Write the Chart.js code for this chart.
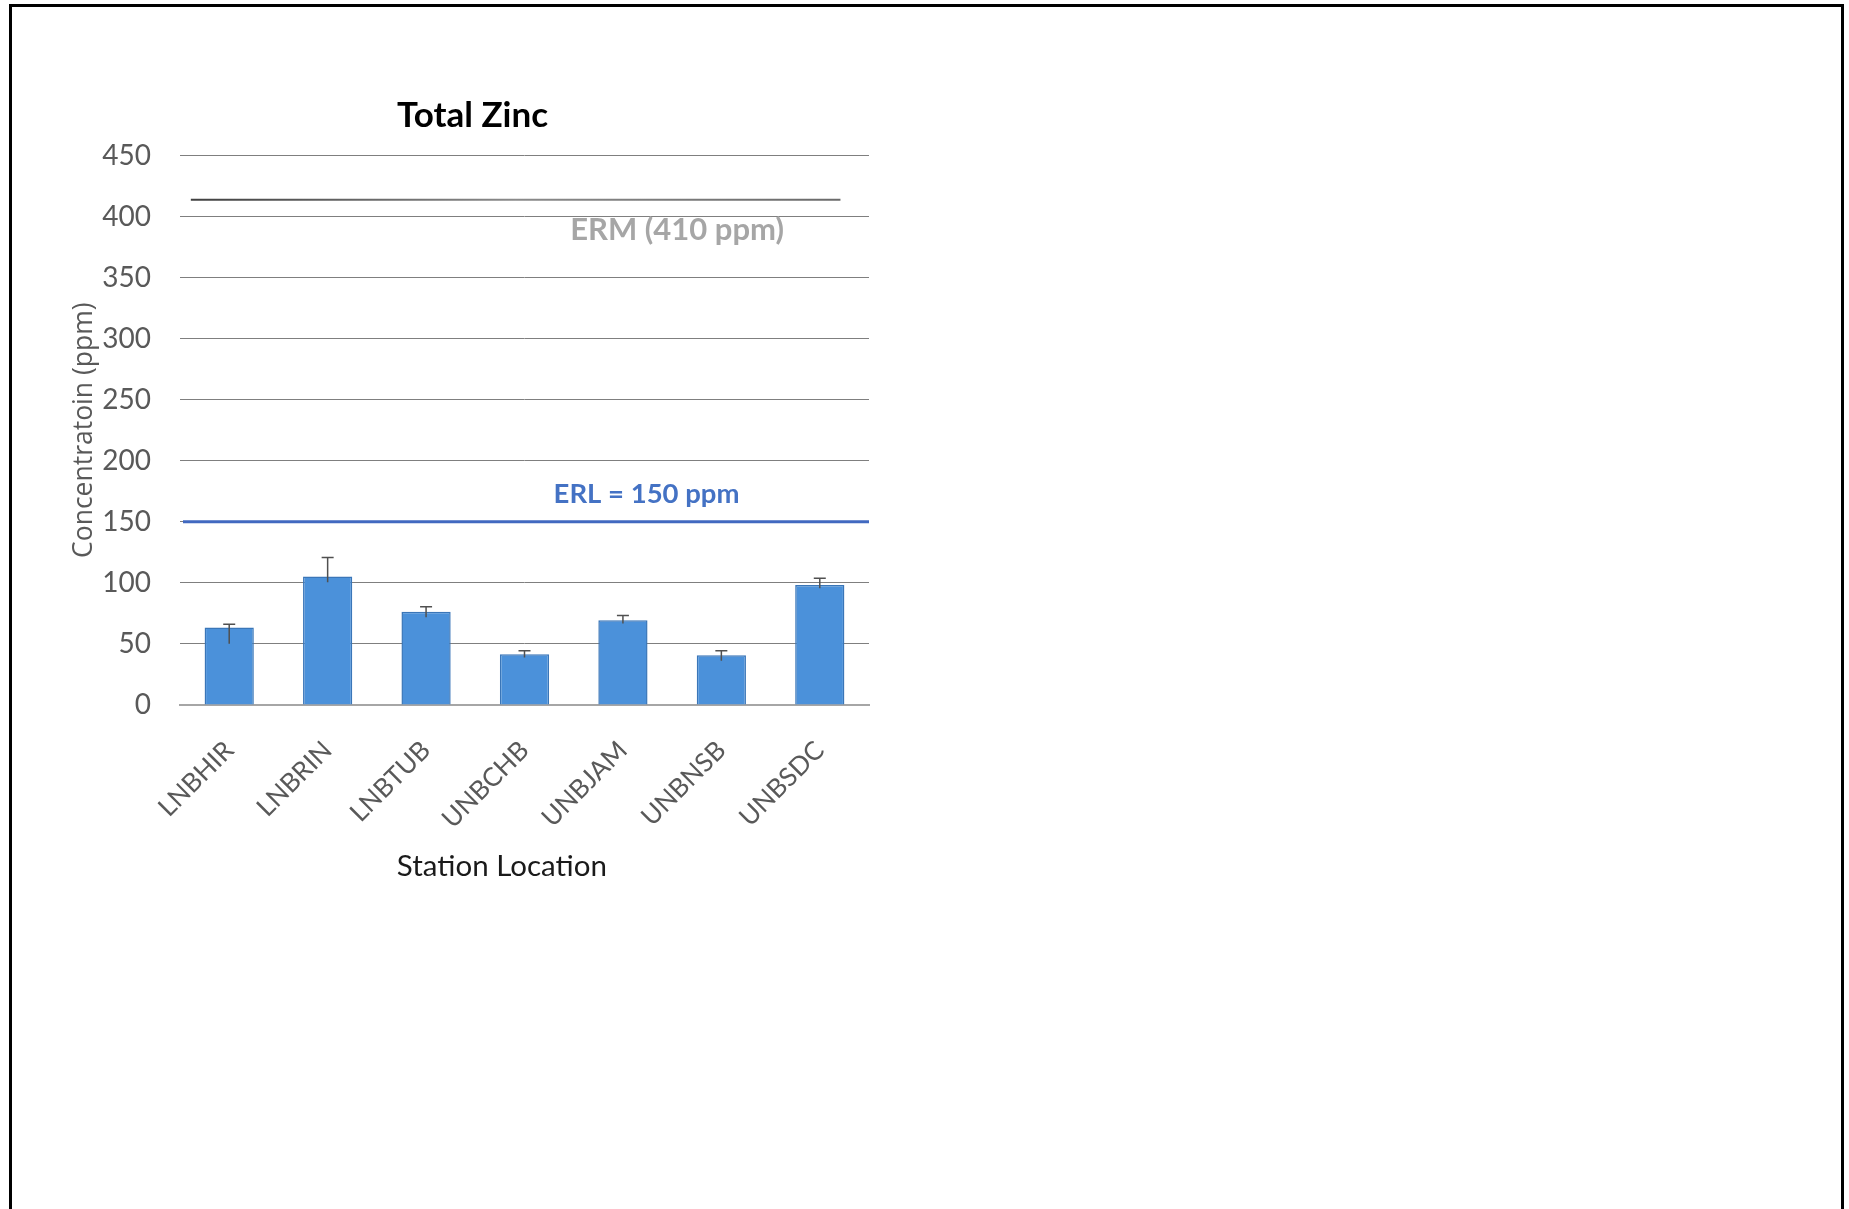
<!DOCTYPE html>
<html>
<head>
<meta charset="utf-8">
<script src="https://cdn.jsdelivr.net/npm/chart.js@4.4.1/dist/chart.umd.min.js"></script>
<style>
	html, body {
		margin: 0;
		padding: 0;
		background: #ffffff;
		width: 1849px;
		height: 1209px;
		overflow: hidden;
	}
	#frame {
		position: absolute;
		left: 9px;
		top: 4px;
		width: 1829px;
		height: 1230px;
		border-left: 3px solid #000;
		border-top: 3px solid #000;
		border-right: 3px solid #000;
	}
	#wrap {
		position: absolute;
		left: 0;
		top: 0;
		width: 1849px;
		height: 1209px;
	}
</style>
</head>
<body>
<div id="frame"></div>
<div id="wrap"><canvas id="canvas"></canvas></div>
<script>
const stations = ['LNBHIR', 'LNBRIN', 'LNBTUB', 'UNBCHB', 'UNBJAM', 'UNBNSB', 'UNBSDC'];
const zinc = [63.4, 105.2, 76.3, 41.5, 69.5, 40.8, 98.2];
const errPlus = [2.7, 15.5, 4.2, 3.0, 3.8, 3.6, 5.6];
const errMinus = [13.2, 4.7, 4.5, 2.5, 2.7, 4.5, 2.5];

const yTicks = [0, 50, 100, 150, 200, 250, 300, 350, 400, 450];

const erlValue = 150;
const erlLabel = 'ERL = 150 ppm';
const ermValue = 413.8;      // drawn line sits slightly above 410
const ermLabel = 'ERM (410 ppm)';
const ermSpan = [-0.39, 6.21]; // in category units
const xTitle = 'Station Location';

const referenceLines = {
	id: 'referenceLines',
	beforeDatasetsDraw(chart) {
		const { ctx, chartArea, scales: { x, y } } = chart;
		ctx.save();

		// ERL line
		const yErl = y.getPixelForValue(erlValue);
		ctx.strokeStyle = '#4169c0';
		ctx.lineWidth = 3;
		ctx.beginPath();
		ctx.moveTo(chartArea.left + 3, yErl);
		ctx.lineTo(chartArea.right, yErl);
		ctx.stroke();

		// ERM line
		const yErm = y.getPixelForValue(ermValue);
		const grad = ctx.createLinearGradient(x.getPixelForValue(ermSpan[0]), 0, x.getPixelForValue(ermSpan[1]), 0);
		grad.addColorStop(0, '#404040');
		grad.addColorStop(0.5, '#8a8a8a');
		grad.addColorStop(1, '#6a6a6a');
		ctx.strokeStyle = grad;
		ctx.lineWidth = 2;
		ctx.beginPath();
		ctx.moveTo(x.getPixelForValue(ermSpan[0]), yErm);
		ctx.lineTo(x.getPixelForValue(ermSpan[1]), yErm);
		ctx.stroke();

		// labels
		ctx.textAlign = 'center';
		ctx.textBaseline = 'middle';
		ctx.font = 'bold 27.5px Lato';
		ctx.fillStyle = '#4472C4';
		ctx.fillText(erlLabel, x.getPixelForValue(4.24), yErl - 28);

		ctx.font = 'bold 31px Lato';
		ctx.fillStyle = '#a6a6a6';
		ctx.fillText(ermLabel, x.getPixelForValue(4.55), yErm + 30);

		ctx.restore();
	}
};

const errorBars = {
	id: 'errorBars',
	afterDatasetsDraw(chart) {
		const { ctx, scales: { x, y } } = chart;
		ctx.save();
		ctx.strokeStyle = '#505050';
		ctx.lineWidth = 1.5;
		zinc.forEach((v, i) => {
			const px = x.getPixelForValue(i);
			const top = y.getPixelForValue(v + errPlus[i]);
			const bottom = y.getPixelForValue(v - errMinus[i]);
			ctx.beginPath();
			ctx.moveTo(px, bottom);
			ctx.lineTo(px, top);
			ctx.moveTo(px - 6, top);
			ctx.lineTo(px + 6, top);
			ctx.stroke();
		});

		// x axis title, set a bit left of the plot centre like the original
		ctx.font = '29.5px Lato';
		ctx.fillStyle = '#1a1a1a';
		ctx.textAlign = 'center';
		ctx.textBaseline = 'middle';
		ctx.fillText(xTitle, x.getPixelForValue(2.77), x.bottom - 17);

		ctx.restore();
	}
};

const opts = {
	type: 'bar',
	data: {
		labels: stations,
		datasets: [{
			label: 'Total Zinc',
			data: zinc,
			backgroundColor: '#4b91da',
			borderColor: '#3a76b8',
			borderWidth: 1.5,
			barPercentage: 0.5,
			categoryPercentage: 1,
		}]
	},
	options: {
		responsive: true,
		maintainAspectRatio: false,
		animation: false,
		layout: {
			padding: { left: 76, top: 94.5, right: 980, bottom: 326 }
		},
		plugins: {
			legend: { display: false },
			tooltip: { enabled: false },
			title: {
				display: true,
				text: 'Total Zinc',
				color: '#000000',
				font: { family: 'Lato', size: 35, weight: 'bold' },
				padding: { top: 0, bottom: 19 }
			}
		},
		scales: {
			x: {
				grid: { display: false, drawTicks: false },
				border: { display: true, color: '#a6a6a6', width: 2 },
				ticks: {
					color: '#595959',
					font: { family: 'Lato', size: 26 },
					maxRotation: 45,
					minRotation: 45,
					padding: 30,
					autoSkip: false,
				},
				afterFit(scale) { scale.height = 178; }
			},
			y: {
				min: 0,
				max: 450,
				afterBuildTicks(scale) { scale.ticks = yTicks.map(v => ({ value: v })); },
				grid: { color: '#7f7f7f', lineWidth: 1, drawTicks: false },
				border: { display: false },
				ticks: {
					color: '#595959',
					font: { family: 'Lato', size: 28 },
					padding: 29,
				},
				title: {
					display: true,
					text: 'Concentratoin (ppm)',
					color: '#595959',
					font: { family: 'Open Sans', size: 26.5 },
					padding: { top: -7, bottom: 0 }
				},
				afterFit(scale) { scale.width = 104; }
			}
		}
	},
	plugins: [referenceLines, errorBars]
};

new Chart(document.getElementById('canvas'), opts);
</script>
</body>
</html>
